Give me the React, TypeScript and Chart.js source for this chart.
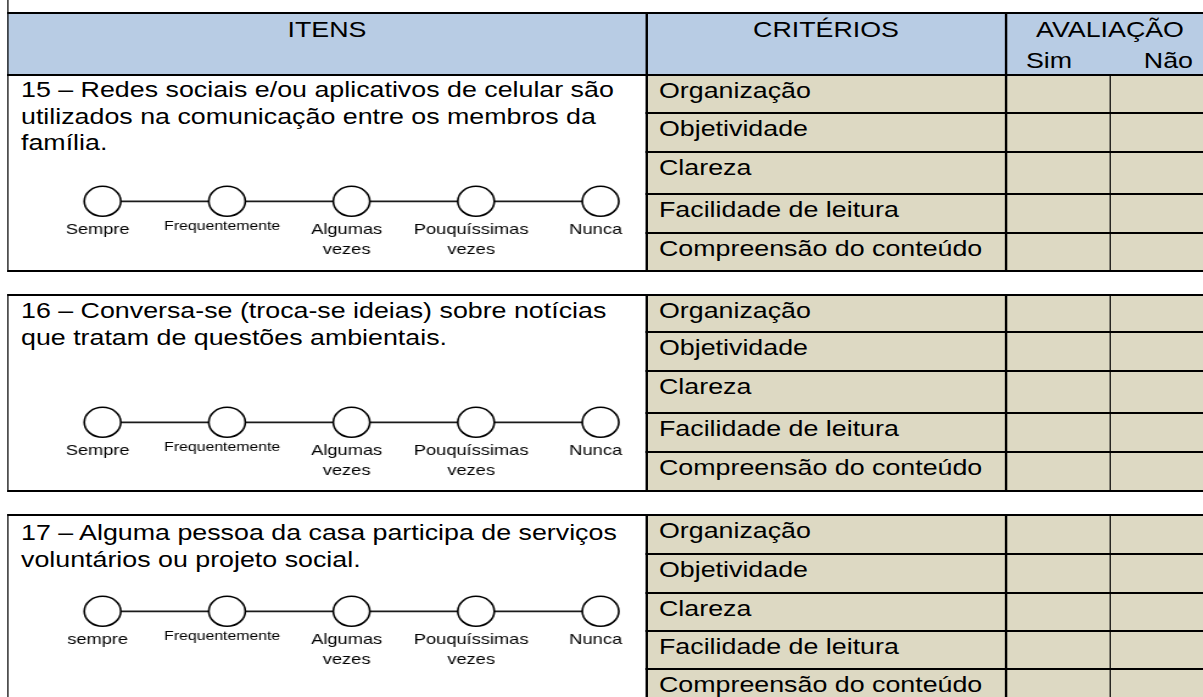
import React, { useEffect, useRef } from "react";
import { Chart, registerables } from "chart.js";

Chart.register(...registerables);

// ---------------- data ----------------
const headerItems = "ITENS";
const headerCriteria = "CRITÉRIOS";
const headerEvaluation = "AVALIAÇÃO";
const evaluationOptions = ["Sim", "Não"];
const criteria = [
  "Organização",
  "Objetividade",
  "Clareza",
  "Facilidade de leitura",
  "Compreensão do conteúdo",
];
const questions = [
  "15 – Redes sociais e/ou aplicativos de celular são utilizados na comunicação entre os membros da família.",
  "16 – Conversa-se (troca-se ideias) sobre notícias que tratam de questões ambientais.",
  "17 – Alguma pessoa da casa participa de serviços voluntários ou projeto social.",
];
const frequencyScale: (string | string[])[] = [
  "Sempre",
  "Frequentemente",
  ["Algumas", "vezes"],
  ["Pouquíssimas", "vezes"],
  "Nunca",
];
const frequencyScale17: (string | string[])[] = [
  "sempre",
  "Frequentemente",
  ["Algumas", "vezes"],
  ["Pouquíssimas", "vezes"],
  "Nunca",
];
const scaleMarks = [0, 0, 0, 0, 0];

// ---------------- layout ----------------
const S = 1.218; // horizontal stretch of the reference picture
const F = 22; // body font size
const FONT = '"Liberation Sans", Arial, Helvetica, sans-serif';
const X = (v: number) => v / S;
const RIGHT = 1220;
const BLUE = "#b8cce4";
const TAN = "#ddd9c3";

const CANVAS_LEFT = 9;
const CANVAS_RIGHT = 646;
const FIRST_MARK = 103;
const LAST_MARK = 601;
const CW = Math.round(X(CANVAS_RIGHT - CANVAS_LEFT));
const CH = 96;
const CIRCLE_OFFSET = 30;

const BLOCKS = [
  { top: 74, rows: [38, 39, 42, 39, 38], qBase: 98, circleY: 197, labels: frequencyScale },
  { top: 294, rows: [37, 39, 42, 39, 39], qBase: 319, circleY: 418, labels: frequencyScale },
  { top: 514, rows: [39, 39, 38, 38, 40], qBase: 541, circleY: 607, labels: frequencyScale17 },
];

Chart.defaults.font.family = FONT;
Chart.defaults.color = "#000";

function Rect({ x, y, w, h, c }: any) {
  return (
    <div
      style={{
        position: "absolute",
        left: X(x),
        top: y,
        width: X(w),
        height: h,
        background: c,
      }}
    />
  );
}

function Txt({ x, base, size = F, anchor = "start", children }: any) {
  const L = Math.round(size * 1.2);
  const top = base - ((L - 1.117 * size) / 2 + 0.905 * size);
  const tr =
    anchor === "middle" ? "translateX(-50%)" : anchor === "end" ? "translateX(-100%)" : undefined;
  return (
    <div
      style={{
        position: "absolute",
        left: X(x),
        top,
        fontSize: size,
        lineHeight: `${L}px`,
        whiteSpace: "nowrap",
        transform: tr,
      }}
    >
      {children}
    </div>
  );
}

function FrequencyScale({ labels, circleY }: any) {
  const ref = useRef<HTMLCanvasElement | null>(null);
  useEffect(() => {
    const canvas = ref.current;
    if (!canvas) return;
    const padL = X(FIRST_MARK - CANVAS_LEFT);
    const padR = CW - X(LAST_MARK - CANVAS_LEFT);
    const chart = new Chart(canvas, {
      type: "line",
      data: {
        labels,
        datasets: [
          {
            data: scaleMarks,
            borderColor: "#1a1a1a",
            borderWidth: 1.8,
            pointRadius: 15,
            pointHoverRadius: 15,
            pointBorderWidth: 1.6,
            pointBorderColor: "#000",
            pointBackgroundColor: "#fff",
            pointStyle: "circle",
            clip: false,
            tension: 0,
          },
        ],
      },
      options: {
        responsive: false,
        animation: false,
        events: [],
        layout: { padding: { left: padL, right: padR, top: 8, bottom: 2 } },
        plugins: { legend: { display: false }, tooltip: { enabled: false } },
        scales: {
          x: {
            grid: { display: false, drawTicks: false },
            border: { display: false },
            ticks: {
              padding: 1,
              labelOffset: -4,
              color: "#000",
              autoSkip: false,
              maxRotation: 0,
              minRotation: 0,
              font: (ctx: any) =>
                ctx.index === 1
                  ? { family: FONT, size: 13, lineHeight: 1.05 }
                  : { family: FONT, size: 15, lineHeight: 1.333 },
            },
          },
          y: { display: false, min: -1, max: 1 },
        },
      },
    } as any);
    return () => chart.destroy();
  }, [labels]);
  return (
    <canvas
      ref={ref}
      width={CW}
      height={CH}
      style={{
        position: "absolute",
        left: X(CANVAS_LEFT),
        top: circleY - CIRCLE_OFFSET,
        width: CW,
        height: CH,
      }}
    />
  );
}

function Block({ b, q }: any) {
  const cum = [0];
  b.rows.forEach((h: number) => cum.push(cum[cum.length - 1] + h));
  const total = cum[cum.length - 1];
  const L = 26.5;
  const pTop = b.qBase - ((L - 1.117 * F) / 2 + 0.905 * F);
  return (
    <>
      <Rect x={648} y={b.top + 2} w={RIGHT - 648} h={total} c={TAN} />
      {cum.map((c: number, i: number) => {
        const full = i === 0 || i === cum.length - 1;
        const x0 = full ? 7 : 646;
        return <Rect key={"h" + i} x={x0} y={b.top + c} w={RIGHT - x0} h={2} c="#000" />;
      })}
      {[7, 646, 1005, 1109].map((x) => (
        <Rect key={"v" + x} x={x} y={b.top} w={2} h={total + 2} c="#000" />
      ))}
      {criteria.map((t, i) => (
        <Txt key={t} x={659} base={b.top + cum[i] + 25}>
          {t}
        </Txt>
      ))}
      <div
        style={{
          position: "absolute",
          left: X(21),
          top: pTop,
          width: 505,
          fontSize: F,
          lineHeight: `${L}px`,
        }}
      >
        {q}
      </div>
      <FrequencyScale labels={b.labels} circleY={b.circleY} />
    </>
  );
}

export default function App() {
  useEffect(() => {
    document.body.style.margin = "0";
    document.body.style.overflow = "hidden";
  }, []);
  return (
    <div
      style={{
        position: "fixed",
        left: 0,
        top: 0,
        width: X(1203),
        height: 697,
        transform: `scaleX(${S})`,
        transformOrigin: "0 0",
        overflow: "hidden",
        background: "#fff",
        fontFamily: FONT,
        color: "#000",
      }}
    >
      {/* header */}
      <Rect x={7} y={12} w={RIGHT - 7} h={64} c={BLUE} />
      <Rect x={7} y={0} w={2} h={12} c="#000" />
      <Rect x={7} y={12} w={RIGHT - 7} h={2} c="#000" />
      {[7, 646, 1005].map((x) => (
        <Rect key={"hv" + x} x={x} y={12} w={2} h={64} c="#000" />
      ))}
      <Txt x={327} base={38} anchor="middle">
        {headerItems}
      </Txt>
      <Txt x={826} base={38} anchor="middle">
        {headerCriteria}
      </Txt>
      <Txt x={1110} base={38} anchor="middle">
        {headerEvaluation}
      </Txt>
      <Txt x={1026} base={69}>
        {evaluationOptions[0]}
      </Txt>
      <Txt x={1193} base={69} anchor="end">
        {evaluationOptions[1]}
      </Txt>
      {BLOCKS.map((b, i) => (
        <Block key={i} b={b} q={questions[i]} />
      ))}
    </div>
  );
}
